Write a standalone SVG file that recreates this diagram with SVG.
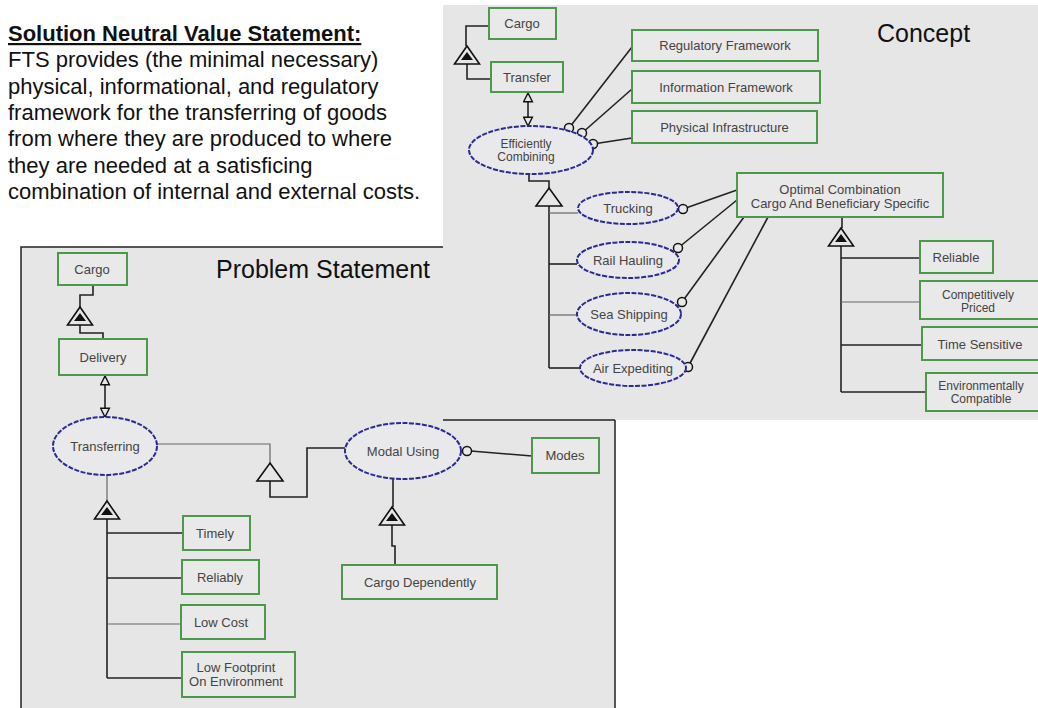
<svg xmlns="http://www.w3.org/2000/svg" xmlns:xlink="http://www.w3.org/1999/xlink" width="1038" height="708" viewBox="0 0 1038 708">
<style>
.panel{fill:#e6e6e6}
.box{fill:#e9e9e9;stroke:#4a9a4a;stroke-width:2}
.ell{fill:#e9e9ec;stroke:#2a2a96;stroke-width:2;stroke-dasharray:5 1.5}
.t{font-family:"Liberation Sans",Arial,sans-serif;font-size:13px;fill:#444;text-anchor:middle}
.t2{font-family:"Liberation Sans",Arial,sans-serif;font-size:12px;fill:#444;text-anchor:middle}
.big{font-family:"Liberation Sans",Arial,sans-serif;font-size:25px;fill:#111}
.body{font-family:"Liberation Sans",Arial,sans-serif;font-size:22px;fill:#111}
.ln{fill:none;stroke:#222;stroke-width:1.6}
.thin{fill:none;stroke:#666;stroke-width:1.2}
.dot{fill:#e9e9e9;stroke:#111;stroke-width:1.5}
.tri{fill:#e6e6e6;stroke:#111;stroke-width:1.6}
</style>
<defs>
<marker id="hollow" viewBox="0 0 10 10" refX="9" refY="5" markerWidth="11" markerHeight="11" markerUnits="userSpaceOnUse" orient="auto-start-reverse">
<path d="M1,1 L9,5 L1,9 Z" fill="#e6e6e6" stroke="#111" stroke-width="1.3"/>
</marker>
<g id="agg"><polygon class="tri" points="0,-9 12.5,9 -12.5,9"/><polygon points="0,-3 6,5 -6,5" fill="#111"/></g>
<g id="spec"><polygon class="tri" points="0,-9 13,9 -13,9"/></g>
</defs>

<!-- statement text -->
<g id="statement">
<text class="body" x="8" y="41" font-weight="bold" text-decoration="underline">Solution Neutral Value Statement:</text>
<text class="body" x="8" y="67">FTS provides (the minimal necessary)</text>
<text class="body" x="8" y="93.5">physical, informational, and regulatory</text>
<text class="body" x="8" y="120">framework for the transferring of goods</text>
<text class="body" x="8" y="146">from where they are produced to where</text>
<text class="body" x="8" y="172.5">they are needed at a satisficing</text>
<text class="body" x="8" y="199">combination of internal and external costs.</text>
</g>

<!-- panels -->
<rect class="panel" x="21" y="247" width="594" height="470" stroke="#222" stroke-width="1.5"/>
<rect class="panel" x="443" y="5" width="600" height="415"/>
<line x1="443" y1="420" x2="615" y2="420" stroke="#222" stroke-width="1.5"/>

<text class="big" x="877" y="42">Concept</text>
<text class="big" x="216" y="278">Problem Statement</text>

<!-- connectors -->
<g id="connectors">
<!-- concept -->
<path class="ln" d="M489,26 H466 V46"/>
<path class="ln" d="M467,63 V79 H491"/>
<line class="ln" x1="528" y1="93" x2="528" y2="126" marker-start="url(#hollow)" marker-end="url(#hollow)"/>
<line class="ln" x1="569" y1="128" x2="632" y2="47"/>
<line class="ln" x1="582" y1="133" x2="632" y2="89"/>
<line class="ln" x1="593" y1="144" x2="632" y2="138"/>
<path class="ln" d="M529,175 V181 H549 V188"/>
<path class="ln" d="M549,206 V368" stroke-width="2"/>
<path class="thin" d="M549,213 H578"/>
<path class="ln" d="M549,264 H577" stroke-width="2"/>
<path class="thin" d="M549,315 H577"/>
<path class="ln" d="M549,368 H580" stroke-width="2"/>
<line class="ln" x1="683" y1="209" x2="737" y2="190"/>
<line class="ln" x1="678" y1="248" x2="737" y2="200"/>
<line class="ln" x1="682" y1="302" x2="744" y2="217"/>
<line class="ln" x1="688" y1="367" x2="768" y2="217"/>
<path class="ln" d="M842,217 V228"/>
<path class="ln" d="M841,245 V392" stroke-width="2"/>
<path class="ln" d="M841,258 H920"/>
<path class="thin" d="M841,302 H920"/>
<path class="ln" d="M841,345 H922"/>
<path class="ln" d="M841,392 H926"/>
<!-- problem -->
<path class="ln" d="M93,285 V295 H80 V307"/>
<path class="ln" d="M80,325 V333 H103 V339"/>
<line class="ln" x1="105" y1="376" x2="105" y2="417" marker-start="url(#hollow)" marker-end="url(#hollow)"/>
<path class="thin" d="M157,444 H270 V463"/>
<path class="ln" d="M270,481 V497 H307 V448 H345"/>
<line class="ln" x1="471" y1="451" x2="532" y2="456"/>
<path class="ln" d="M393,479 V507"/>
<path class="ln" d="M392,525 V546 H395 V565"/>
<path class="thin" d="M107,475 V501"/>
<path class="ln" d="M107,519 V678"/>
<path class="ln" d="M107,533 H183"/>
<path class="ln" d="M107,578 H182"/>
<path class="thin" d="M107,624 H181"/>
<path class="ln" d="M107,678 H182" stroke-width="2"/>
<!-- triangles -->
<use xlink:href="#agg" x="467" y="55"/>
<use xlink:href="#spec" x="549" y="197"/>
<use xlink:href="#agg" x="841" y="237"/>
<use xlink:href="#agg" x="80" y="316"/>
<use xlink:href="#spec" x="270" y="472"/>
<use xlink:href="#agg" x="392" y="516"/>
<use xlink:href="#agg" x="107" y="510"/>
<!-- circles -->
<circle class="dot" cx="569" cy="128" r="4.5"/>
<circle class="dot" cx="582" cy="133" r="4.5"/>
<circle class="dot" cx="593" cy="144" r="4.5"/>
<circle class="dot" cx="683" cy="209" r="4.5"/>
<circle class="dot" cx="678" cy="248" r="4.5"/>
<circle class="dot" cx="682" cy="302" r="4.5"/>
<circle class="dot" cx="688" cy="367" r="4.5"/>
<circle class="dot" cx="467" cy="451" r="4.5"/>
</g>

<!-- concept nodes -->
<g id="c-cargo"><rect class="box" x="489" y="8" width="67" height="31"/><text class="t" x="522" y="28">Cargo</text></g>
<g id="c-transfer"><rect class="box" x="491" y="62" width="72" height="30"/><text class="t" x="527" y="81.5">Transfer</text></g>
<g id="c-reg"><rect class="box" x="632" y="30" width="186" height="31"/><text class="t" x="725" y="50">Regulatory Framework</text></g>
<g id="c-info"><rect class="box" x="632" y="71" width="188" height="32"/><text class="t" x="726" y="91.5">Information Framework</text></g>
<g id="c-phys"><rect class="box" x="632" y="111" width="185" height="32"/><text class="t" x="724.5" y="131.5">Physical Infrastructure</text></g>
<g id="c-eff"><ellipse class="ell" cx="531" cy="150" rx="62" ry="24"/><text class="t2" x="526" y="148">Efficiently</text><text class="t2" x="526" y="161">Combining</text></g>
<g id="c-truck"><ellipse class="ell" cx="628" cy="208" rx="50" ry="16"/><text class="t" x="628" y="212.5">Trucking</text></g>
<g id="c-rail"><ellipse class="ell" cx="628" cy="260" rx="51" ry="18"/><text class="t" x="628" y="264.5">Rail Hauling</text></g>
<g id="c-sea"><ellipse class="ell" cx="629" cy="314" rx="52" ry="21"/><text class="t" x="629" y="318.5">Sea Shipping</text></g>
<g id="c-air"><ellipse class="ell" cx="633" cy="368" rx="53" ry="18"/><text class="t" x="633" y="372.5">Air Expediting</text></g>
<g id="c-opt"><rect class="box" x="737" y="173" width="206" height="44"/><text class="t" x="840" y="194">Optimal Combination</text><text class="t" x="840" y="207.5">Cargo And Beneficiary Specific</text></g>
<g id="c-reliable"><rect class="box" x="920" y="241" width="73" height="32"/><text class="t" x="956" y="261.5">Reliable</text></g>
<g id="c-comp"><rect class="box" x="920" y="281" width="130" height="38"/><text class="t2" x="978" y="299">Competitively</text><text class="t2" x="978" y="312">Priced</text></g>
<g id="c-time"><rect class="box" x="922" y="327" width="130" height="33"/><text class="t" x="980" y="348.5">Time Sensitive</text></g>
<g id="c-env"><rect class="box" x="926" y="373" width="130" height="38"/><text class="t2" x="981" y="390">Environmentally</text><text class="t2" x="981" y="403">Compatible</text></g>

<!-- problem nodes -->
<g id="p-cargo"><rect class="box" x="58" y="253" width="69" height="32"/><text class="t" x="92" y="273.5">Cargo</text></g>
<g id="p-delivery"><rect class="box" x="59" y="339" width="88" height="36"/><text class="t" x="103" y="361.5">Delivery</text></g>
<g id="p-transferring"><ellipse class="ell" cx="105" cy="446" rx="52" ry="29"/><text class="t" x="105" y="450.5">Transferring</text></g>
<g id="p-modal"><ellipse class="ell" cx="403" cy="451" rx="58" ry="28"/><text class="t" x="403" y="455.5">Modal Using</text></g>
<g id="p-modes"><rect class="box" x="532" y="438" width="67" height="35"/><text class="t" x="565" y="460" fill="#222">Modes</text></g>
<g id="p-cargodep"><rect class="box" x="342" y="565" width="155" height="34"/><text class="t" x="420" y="586.5">Cargo Dependently</text></g>
<g id="p-timely"><rect class="box" x="183" y="516" width="67" height="34"/><text class="t" x="215" y="537.5">Timely</text></g>
<g id="p-reliably"><rect class="box" x="182" y="560" width="77" height="34"/><text class="t" x="220" y="581.5">Reliably</text></g>
<g id="p-lowcost"><rect class="box" x="181" y="605" width="84" height="34"/><text class="t" x="221" y="626.5">Low Cost</text></g>
<g id="p-lowfoot"><rect class="box" x="182" y="652" width="113" height="45"/><text class="t" x="236" y="671.5">Low Footprint</text><text class="t" x="236" y="685.5">On Environment</text></g>
</svg>
